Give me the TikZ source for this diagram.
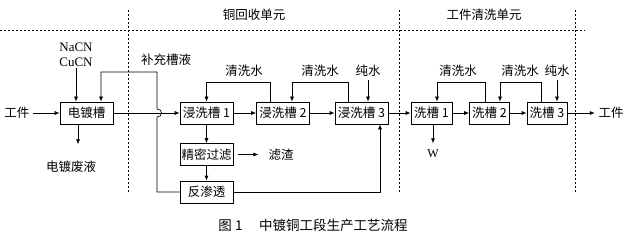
\documentclass[tikz,border=0pt]{standalone}
\usepackage{fontspec}
\setmainfont{Liberation Serif}
\newfontfamily\cjk{Noto Sans CJK SC}
\usetikzlibrary{arrows.meta}

\begin{document}
\begin{tikzpicture}[x=1pt, y=-1pt, >={Latex[length=5pt,width=4pt]}, line width=0.7pt,
    every node/.style={font=\cjk\fontsize{12.5pt}{15pt}\selectfont},
    tank/.style={draw, minimum height=22pt, inner sep=1pt},
    unitline/.style={dash pattern=on 2pt off 2pt, line width=0.6pt}]
\useasboundingbox (0,0) rectangle (627,238);

\draw[unitline] (0,30) -- (585,30);
\draw[unitline] (128,10) -- (128,192);
\draw[unitline] (399,10) -- (399,192);
\draw[unitline] (575,10) -- (575,192);
\node (cuunit) at (254,15) {铜回收单元};
\node (wsunit) at (484,15) {工件清洗单元};

\node (gjin) at (17,113) {工件};
\node[tank, minimum width=53pt] (dd) at (86.5,113) {电镀槽};
\node[font=\rmfamily\fontsize{13pt}{15pt}\selectfont, align=center, inner sep=1pt] (yao) at (76,55) {NaCN\\CuCN};
\node (bc) at (166,60) {补充槽液};
\node (fy) at (71,167) {电镀废液};

\node[tank, minimum width=53pt] (jx1) at (206.5,113) {浸洗槽 1};
\node[tank, minimum width=53pt] (jx2) at (283,113) {浸洗槽 2};
\node[tank, minimum width=53pt] (jx3) at (361.5,113) {浸洗槽 3};
\node[tank, minimum width=53pt] (jm) at (206.5,154.5) {精密过滤};
\node[tank, minimum width=53pt] (fst) at (206.5,192) {反渗透};
\node (lz) at (281,155) {滤渣};

\node (qs1) at (244,71) {清洗水};
\node (qs2) at (320,71) {清洗水};
\node (cs1) at (368,71) {纯水};

\node[tank, minimum width=41pt] (xc1) at (431.5,113) {洗槽 1};
\node[tank, minimum width=40pt] (xc2) at (489.5,113) {洗槽 2};
\node[tank, minimum width=40pt] (xc3) at (547,113) {洗槽 3};
\node[font=\rmfamily\fontsize{12pt}{14pt}\selectfont] (w) at (433,154) {W};
\node (qs3) at (458,71) {清洗水};
\node (qs4) at (520,71) {清洗水};
\node (cs2) at (557,71) {纯水};
\node (gjout) at (611,113) {工件};

\node[font=\cjk\fontsize{13.5pt}{16pt}\selectfont] (cap) at (313,225) {图 1\quad\ 中镀铜工段生产工艺流程};

\draw[->] (gjin) -- (dd);
\draw[->] (yao) -- (yao |- dd.north);
\draw[->] ([xshift=-8.5pt]dd.south) -- ++(0,20);
\draw[->] (dd) -- (jx1);
\draw[->] (fst.west) -- (157,192) -- (157,117) .. controls +(6,0) and +(6,0) .. (157,109) -- (157,72) -| ([xshift=14.5pt]dd.north);

\draw[->] (jx1) -- (jx2);
\draw[->] (jx2) -- (jx3);
\draw[->] (jx3) -- (xc1);
\draw[->] (jx1) -- (jm);
\draw[->] (jm) -- (fst);
\draw[->] ([xshift=5pt]jm.east) -- ++(20,0);
\draw[->] (fst.east) -| ([xshift=18.5pt]jx3.south);

\draw[->] ([xshift=-13pt]jx2.north) -- ++(0,-19) -| (jx1.north);
\draw[->] ([xshift=-13.5pt]jx3.north) -- ++(0,-19) -| ([xshift=9pt]jx2.north);
\draw[->] (cs1) -- (cs1 |- jx3.north);

\draw[->] (xc1) -- (xc2);
\draw[->] (xc2) -- (xc3);
\draw[->] (xc3) -- (gjout);
\draw[->] ([xshift=1.5pt]xc1.south) -- ++(0,19);
\draw[->] ([xshift=-4.5pt]xc2.north) -- ++(0,-19) -| ([xshift=5.5pt]xc1.north);
\draw[->] ([xshift=-6pt]xc3.north) -- ++(0,-19) -| ([xshift=10.5pt]xc2.north);
\draw[->] (cs2) -- (cs2 |- xc3.north);
\end{tikzpicture}
\end{document}
